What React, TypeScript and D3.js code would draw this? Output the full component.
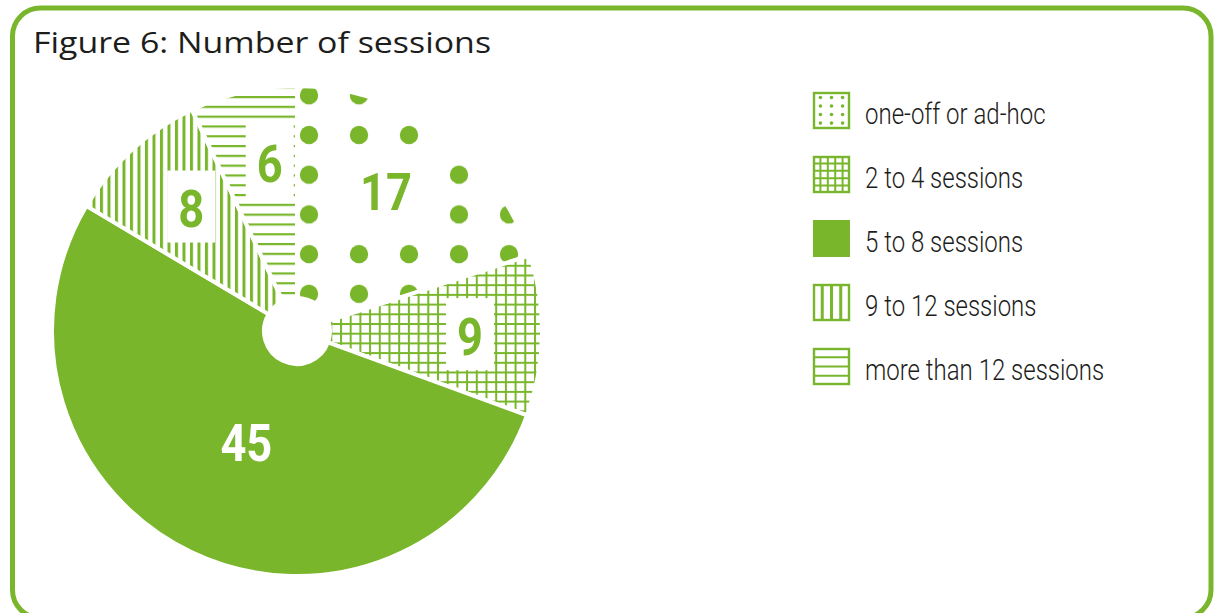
import React from "react";
import * as d3 from "d3";

// Number of sessions, by band
const categories = [
  "one-off or ad-hoc",
  "2 to 4 sessions",
  "5 to 8 sessions",
  "9 to 12 sessions",
  "more than 12 sessions",
];
const values = [17, 9, 45, 8, 6];
const fills = ["dots", "grid", "solid", "vlines", "hlines"];

const W = 1214;
const H = 613;
const GREEN = "#79b62b";
const INK = "#1d1d1b";

const CX = 297;
const CY = 331;
const R_OUT = 245;
const R_IN = 33;

// label placement: radius from centre plus a small nudge per slice
const LABEL_R = [165, 172, 125, 163, 165];
const LABEL_NUDGE: [number, number][] = [
  [-8, -6],
  [1, 2],
  [3, -1],
  [4, -2],
  [9, -7],
];

const NUM_FONT = "Roboto, 'DejaVu Sans Condensed', sans-serif";
const LEGEND_FONT = "Roboto, 'DejaVu Sans Condensed', sans-serif";
const TITLE_FONT = "'Open Sans', 'Noto Sans', sans-serif";

function Swatch({ kind, x, y, s }: { kind: string; x: number; y: number; s: number }) {
  const inner: React.ReactNode[] = [];
  if (kind === "solid") {
    return <rect x={x} y={y} width={s} height={s} fill={GREEN} />;
  }
  if (kind === "dots") {
    const xs = [0.2, 0.5, 0.8];
    const ys = [0.15, 0.38, 0.61, 0.84];
    xs.forEach((fx, i) =>
      ys.forEach((fy, j) =>
        inner.push(<circle key={`d${i}-${j}`} cx={x + fx * s} cy={y + fy * s} r={1.8} fill={GREEN} />)
      )
    );
  } else if (kind === "grid") {
    for (let k = 1; k < 5; k++) {
      inner.push(<line key={`v${k}`} x1={x + (k * s) / 5} x2={x + (k * s) / 5} y1={y} y2={y + s} stroke={GREEN} strokeWidth={2} />);
      inner.push(<line key={`h${k}`} y1={y + (k * s) / 5} y2={y + (k * s) / 5} x1={x} x2={x + s} stroke={GREEN} strokeWidth={2} />);
    }
  } else if (kind === "vlines") {
    for (let k = 1; k < 4; k++) {
      inner.push(<line key={`v${k}`} x1={x + (k * s) / 4} x2={x + (k * s) / 4} y1={y} y2={y + s} stroke={GREEN} strokeWidth={3} />);
    }
  } else if (kind === "hlines") {
    for (let k = 1; k < 4; k++) {
      inner.push(<line key={`h${k}`} y1={y + (k * s) / 4} y2={y + (k * s) / 4} x1={x} x2={x + s} stroke={GREEN} strokeWidth={2} />);
    }
  }
  return (
    <g>
      <rect x={x} y={y} width={s} height={s} fill="#fff" />
      {inner}
      <rect x={x + 1} y={y + 1} width={s - 2} height={s - 2} fill="none" stroke={GREEN} strokeWidth={2.4} />
    </g>
  );
}

export default function App() {
  const pie = d3
    .pie<number>()
    .sort(null)
    .value((d) => d)
    .startAngle(0)
    .endAngle(2 * Math.PI);
  const arcs = pie(values);
  const arc = d3.arc<d3.PieArcDatum<number>>().innerRadius(R_IN).outerRadius(R_OUT);

  const fillFor = (k: string) => (k === "solid" ? GREEN : `url(#pat-${k})`);

  const legendY = d3
    .scaleBand<string>()
    .domain(categories)
    .range([92, 92 + 64 * categories.length]);

  const fs = 52;

  // pattern tiles live in the pie group's translated user space
  const ox = -CX;
  const oy = -CY;

  return (
    <svg width={W} height={H} style={{ position: "absolute", left: 0, top: 0, background: "#fff" }}>
      <defs>
        <pattern id="pat-dots" patternUnits="userSpaceOnUse" x={284 + ox} y={115.15 + oy} width={50} height={39.7}>
          <circle cx={25} cy={19.85} r={9.2} fill={GREEN} />
        </pattern>
        <pattern id="pat-grid" patternUnits="userSpaceOnUse" x={340 + ox} y={323 + oy} width={9.7} height={9.7}>
          <rect x={0} y={0} width={2} height={9.7} fill={GREEN} />
          <rect x={0} y={0} width={9.7} height={2} fill={GREEN} />
        </pattern>
        <pattern id="pat-vlines" patternUnits="userSpaceOnUse" x={100 + ox} y={0} width={7.5} height={20}>
          <rect x={0} y={0} width={3} height={20} fill={GREEN} />
        </pattern>
        <pattern id="pat-hlines" patternUnits="userSpaceOnUse" x={0} y={96 + oy} width={20} height={9.8}>
          <rect x={0} y={0} width={20} height={2.2} fill={GREEN} />
        </pattern>
      </defs>

      <rect x={12.5} y={8} width={1198.5} height={610} rx={28} ry={28} fill="none" stroke={GREEN} strokeWidth={5} />

      <text transform="translate(33,53) scale(1.13,1)" fontFamily={TITLE_FONT} fontSize={30} fill={INK}>
        Figure 6: Number of sessions
      </text>

      <g transform={`translate(${CX},${CY})`}>
        {arcs.map((a, i) => (
          <path key={categories[i]} d={arc(a) || ""} fill={fillFor(fills[i])} stroke="#fff" strokeWidth={4} strokeLinejoin="miter" />
        ))}
        {arcs.map((a, i) => {
          const mid = (a.startAngle + a.endAngle) / 2;
          const lx = Math.sin(mid) * LABEL_R[i] + LABEL_NUDGE[i][0];
          const ly = -Math.cos(mid) * LABEL_R[i] + LABEL_NUDGE[i][1];
          const label = String(values[i]);
          const solid = fills[i] === "solid";
          const bw = label.length * 26 + 22;
          const bh = 72;
          return (
            <g key={`lab-${i}`}>
              {!solid && <rect x={lx - bw / 2} y={ly - 2 - bh / 2} width={bw} height={bh} fill="#fff" />}
              <text
                transform={`translate(${lx},${ly + fs * 0.355}) scale(0.87,1)`}
                textAnchor="middle"
                fontFamily={NUM_FONT}
                fontWeight={700}
                fontSize={fs}
                fill={solid ? "#fff" : GREEN}
              >
                {label}
              </text>
            </g>
          );
        })}
      </g>

      {categories.map((c, i) => {
        const y = legendY(c) as number;
        return (
          <g key={`leg-${c}`}>
            <Swatch kind={fills[i]} x={813} y={y} s={37} />
            <text
              transform={`translate(865,${y + 32}) scale(0.8,1)`}
              fontFamily={LEGEND_FONT}
              fontWeight={300}
              fontSize={30}
              fill={INK}
            >
              {c}
            </text>
          </g>
        );
      })}
    </svg>
  );
}
